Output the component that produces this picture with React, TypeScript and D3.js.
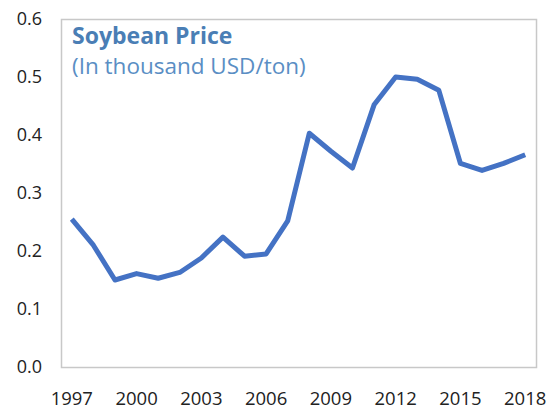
import React, { useRef, useEffect } from "react";
import * as d3 from "d3";

const years = [
  1997, 1998, 1999, 2000, 2001, 2002, 2003, 2004, 2005, 2006, 2007,
  2008, 2009, 2010, 2011, 2012, 2013, 2014, 2015, 2016, 2017, 2018,
];
const prices = [
  0.255, 0.21, 0.15, 0.161, 0.153, 0.163, 0.188, 0.224, 0.191, 0.195, 0.252,
  0.403, 0.372, 0.343, 0.452, 0.5, 0.496, 0.477, 0.351, 0.339, 0.351, 0.366,
];
const yTicks = [0, 0.1, 0.2, 0.3, 0.4, 0.5, 0.6];
const xTickYears = [1997, 2000, 2003, 2006, 2009, 2012, 2015, 2018];

const App = () => {
  const svgRef = useRef<SVGSVGElement>(null);
  const width = 550;
  const height = 409;
  const margin = { top: 19, right: 14, bottom: 42, left: 61 };
  const font = "'Open Sans', 'Noto Sans', sans-serif";

  useEffect(() => {
    const svg = d3.select(svgRef.current).attr("width", width).attr("height", height);
    const g = svg.append("g");

    const x = d3
      .scalePoint<number>()
      .domain(years)
      .range([margin.left, width - margin.right])
      .padding(0.5);
    const y = d3
      .scaleLinear()
      .domain([0, 0.6])
      .range([height - margin.bottom, margin.top]);

    // frame
    g.append("rect")
      .attr("x", margin.left + 0.5)
      .attr("y", margin.top + 0.5)
      .attr("width", width - margin.left - margin.right)
      .attr("height", height - margin.top - margin.bottom)
      .attr("fill", "none")
      .attr("stroke", "#c8c8c8")
      .attr("stroke-width", 1.5);

    g.selectAll(".ytick")
      .data(yTicks)
      .enter()
      .append("text")
      .attr("x", margin.left - 19)
      .attr("y", (d) => y(d))
      .attr("dy", "0.35em")
      .attr("text-anchor", "end")
      .attr("font-family", font)
      .attr("font-size", 18)
      .attr("fill", "#222")
      .text((d) => d.toFixed(1));

    g.selectAll(".xtick")
      .data(xTickYears)
      .enter()
      .append("text")
      .attr("x", (d) => x(d) as number)
      .attr("y", 405)
      .attr("text-anchor", "middle")
      .attr("font-family", font)
      .attr("font-size", 18.5)
      .attr("fill", "#222")
      .text((d) => d);

    const line = d3
      .line<number>()
      .x((d, i) => x(years[i]) as number)
      .y((d) => y(d));

    g.append("path")
      .datum(prices)
      .attr("d", line)
      .attr("fill", "none")
      .attr("stroke", "#4472C4")
      .attr("stroke-width", 5)
      .attr("stroke-linejoin", "round");

    g.append("text")
      .attr("x", 72)
      .attr("y", 44)
      .attr("font-family", font)
      .attr("font-size", 23)
      .attr("font-weight", "bold")
      .attr("fill", "#4A7EB5")
      .text("Soybean Price");

    g.append("text")
      .attr("x", 72)
      .attr("y", 74)
      .attr("font-family", font)
      .attr("font-size", 22.5)
      .attr("fill", "#5A8EC4")
      .text("(In thousand USD/ton)");

    return () => {
      g.remove();
    };
  }, []);

  return (
    <svg
      ref={svgRef}
      style={{ position: "absolute", left: 0, top: 0, background: "#fff" }}
    />
  );
};

export default App;
